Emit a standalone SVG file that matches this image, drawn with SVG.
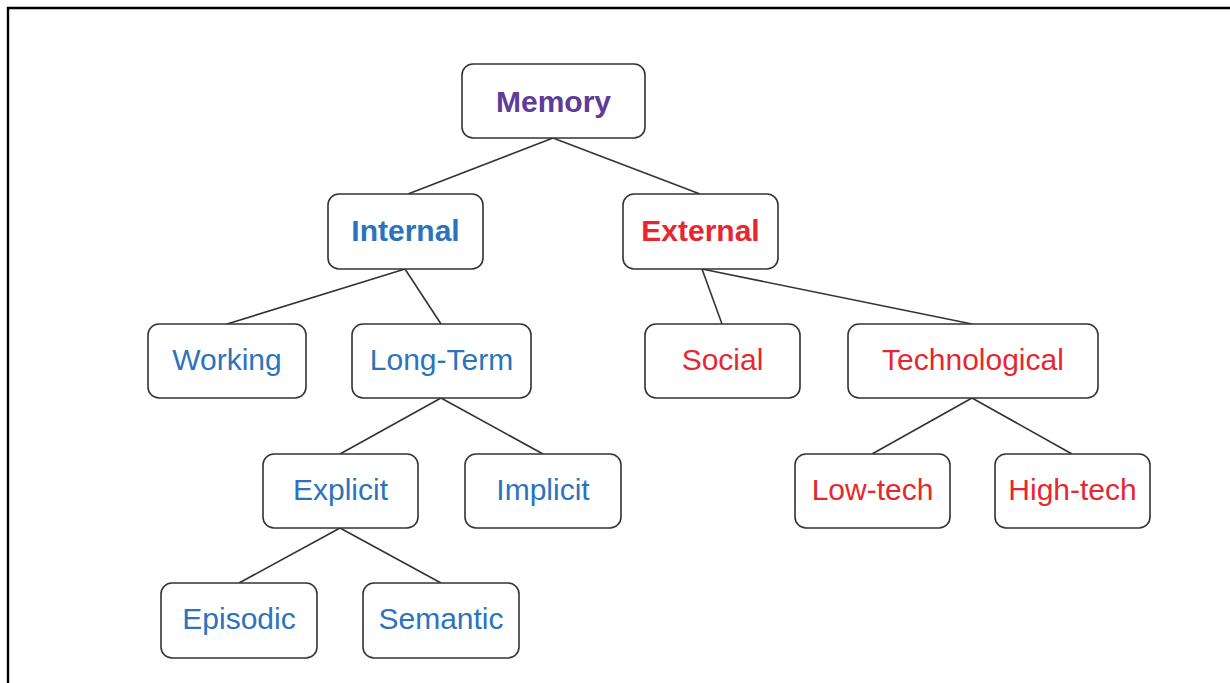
<svg xmlns="http://www.w3.org/2000/svg" width="1230" height="683" viewBox="0 0 1230 683">
<style>
.box{fill:#fff;stroke:#333;stroke-width:1.6}
.t{font-family:"Liberation Sans",Arial,sans-serif;font-size:30px;text-anchor:middle}
.b{font-weight:bold}
.blue{fill:#2b74bd}
.red{fill:#e8262f}
.purple{fill:#5e3c98}
.edge{stroke:#333;stroke-width:1.6;fill:none}
</style>
<rect width="1230" height="683" fill="#fff"/>
<path d="M8 683 V8 H1230" fill="none" stroke="#000" stroke-width="2.4"/>
<g id="connectors">
<line class="edge" x1="553" y1="138" x2="408" y2="194"/>
<line class="edge" x1="553" y1="138" x2="700" y2="194"/>
<line class="edge" x1="405" y1="269" x2="227" y2="324"/>
<line class="edge" x1="405" y1="269" x2="441" y2="324"/>
<line class="edge" x1="441" y1="398" x2="340" y2="454"/>
<line class="edge" x1="441" y1="398" x2="543" y2="454"/>
<line class="edge" x1="340" y1="528" x2="239" y2="583"/>
<line class="edge" x1="340" y1="528" x2="441" y2="583"/>
<line class="edge" x1="702" y1="269" x2="722" y2="324"/>
<line class="edge" x1="702" y1="269" x2="972" y2="324"/>
<line class="edge" x1="972" y1="398" x2="872" y2="454"/>
<line class="edge" x1="972" y1="398" x2="1072" y2="454"/>
</g>
<g id="memory"><rect class="box" x="462" y="64" width="183" height="74" rx="11"/><text class="t b purple" x="553.5" y="112">Memory</text></g>
<g id="internal"><rect class="box" x="328" y="194" width="155" height="75" rx="11"/><text class="t b blue" x="405.5" y="241">Internal</text></g>
<g id="external"><rect class="box" x="623" y="194" width="155" height="75" rx="11"/><text class="t b red" x="700.5" y="241">External</text></g>
<g id="working"><rect class="box" x="148" y="324" width="158" height="74" rx="11"/><text class="t blue" x="227" y="370">Working</text></g>
<g id="longterm"><rect class="box" x="352" y="324" width="179" height="74" rx="11"/><text class="t blue" x="441.5" y="370">Long-Term</text></g>
<g id="social"><rect class="box" x="645" y="324" width="155" height="74" rx="11"/><text class="t red" x="722.5" y="370">Social</text></g>
<g id="technological"><rect class="box" x="848" y="324" width="250" height="74" rx="11"/><text class="t red" x="973" y="370">Technological</text></g>
<g id="explicit"><rect class="box" x="263" y="454" width="155" height="74" rx="11"/><text class="t blue" x="340.5" y="500">Explicit</text></g>
<g id="implicit"><rect class="box" x="465" y="454" width="156" height="74" rx="11"/><text class="t blue" x="543" y="500">Implicit</text></g>
<g id="lowtech"><rect class="box" x="795" y="454" width="155" height="74" rx="11"/><text class="t red" x="872.5" y="500">Low-tech</text></g>
<g id="hightech"><rect class="box" x="995" y="454" width="155" height="74" rx="11"/><text class="t red" x="1072.5" y="500">High-tech</text></g>
<g id="episodic"><rect class="box" x="161" y="583" width="156" height="75" rx="11"/><text class="t blue" x="239" y="629">Episodic</text></g>
<g id="semantic"><rect class="box" x="363" y="583" width="156" height="75" rx="11"/><text class="t blue" x="441" y="629">Semantic</text></g>
</svg>
